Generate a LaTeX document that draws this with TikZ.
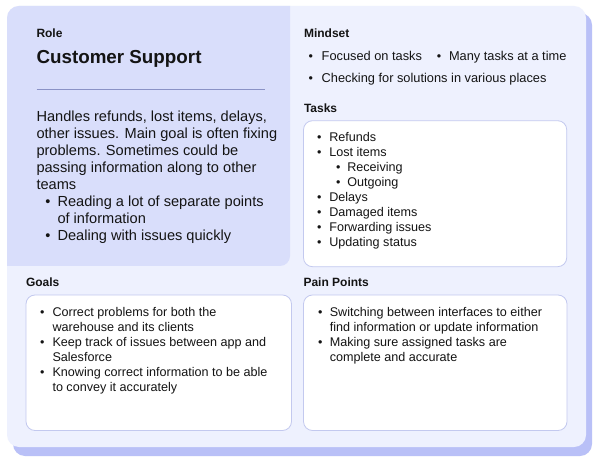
\documentclass[tikz,border=0pt]{standalone}
\usepackage{fontspec}
\setmainfont{Liberation Sans}
\definecolor{cardbg}{HTML}{EEF1FE}
\definecolor{rolebg}{HTML}{D9DEFB}
\definecolor{shadowc}{HTML}{B9C0F7}
\definecolor{boxline}{HTML}{C3C9EF}
\definecolor{rulec}{HTML}{8A92C6}
\definecolor{ink}{HTML}{141414}
\begin{document}
\begin{tikzpicture}[x=1bp,y=-1bp,
  txt/.style={anchor=base west, inner sep=0, outer sep=0, text=ink},
  head/.style={txt, font=\bfseries\fontsize{12bp}{14bp}\selectfont},
  para/.style={txt, font=\fontsize{14.6bp}{17bp}\selectfont},
  mind/.style={txt, font=\fontsize{12.8bp}{15bp}\selectfont},
  item/.style={txt, font=\fontsize{12.6bp}{15bp}\selectfont},
  bul/.style={anchor=base, inner sep=0, outer sep=0, text=ink, font=\fontsize{12.5bp}{14bp}\selectfont},
  bigbul/.style={bul, font=\fontsize{14.5bp}{17bp}\selectfont},
  whitebox/.style={draw=boxline, line width=0.8bp, fill=white, rounded corners=9bp}]
\useasboundingbox (0,0) rectangle (600,464);
\fill[white] (0,0) rectangle (600,464);
% card with shadow
\fill[shadowc, rounded corners=12bp] (13,13) rectangle (592,456);
\fill[cardbg, rounded corners=12bp] (7,6) rectangle (586,447);
\begin{scope}
  \clip[rounded corners=12bp] (7,6) rectangle (586,447);
  \fill[rolebg, rounded corners=10bp] (-20,-20) rectangle (290,266);
\end{scope}
% Role panel
\node[head] (rolelbl) at (36.5,37.5) {Role};
\node[txt, font=\bfseries\fontsize{18.8bp}{22bp}\selectfont] (rolename) at (36.5,63.3) {Customer Support};
\coordinate (ruleA) at (36.5,89.3);
\coordinate (ruleB) at (265,89.3);
\draw[rulec, line width=1bp] (ruleA) -- (ruleB);
\node[para] (p1) at (36.5,122) {Handles refunds, lost items, delays,};
\node[para] (p2) at (36.5,139) {other issues. Main goal is often fixing};
\node[para] (p3) at (36.5,156) {problems. Sometimes could be};
\node[para] (p4) at (36.5,173) {passing information along to other};
\node[para] (p5) at (36.5,190) {teams};
\node[bigbul] (rb1) at (48,207) {•};
\node[para] (r1) at (57.5,207) {Reading a lot of separate points};
\node[para] (r1b) at (57.5,224) {of information};
\node[bigbul] (rb2) at (48,241) {•};
\node[para] (r2) at (57.5,241) {Dealing with issues quickly};
% Mindset
\node[head] (mindlbl) at (304,37.3) {Mindset};
\node[bul] (mb1) at (310.7,61) {•};
\node[mind] (m1) at (321.7,61) {Focused on tasks};
\node[bul] (mb2) at (439,61) {•};
\node[mind] (m2) at (449,61) {Many tasks at a time};
\node[bul] (mb3) at (310.7,82.3) {•};
\node[mind] (m3) at (321.7,82.3) {Checking for solutions in various places};
% Tasks
\node[head] (tasklbl) at (304,112.7) {Tasks};
\draw[whitebox] (303.5,120.7) rectangle (566.7,266.7);
\node[bul] (tb1) at (319.3,142) {•};
\node[item] (t1) at (329.3,142) {Refunds};
\node[bul] (tb2) at (319.3,157) {•};
\node[item] (t2) at (329.3,157) {Lost items};
\node[bul] (tb3) at (338.3,172) {•};
\node[item] (t3) at (347.3,172) {Receiving};
\node[bul] (tb4) at (338.3,187) {•};
\node[item] (t4) at (347.3,187) {Outgoing};
\node[bul] (tb5) at (319.3,202) {•};
\node[item] (t5) at (329.3,202) {Delays};
\node[bul] (tb6) at (319.3,217) {•};
\node[item] (t6) at (329.3,217) {Damaged items};
\node[bul] (tb7) at (319.3,232) {•};
\node[item] (t7) at (329.3,232) {Forwarding issues};
\node[bul] (tb8) at (319.3,247) {•};
\node[item] (t8) at (329.3,247) {Updating status};
% Goals
\node[head] (goallbl) at (26,286.7) {Goals};
\draw[whitebox] (26,295) rectangle (291.5,430.5);
\node[bul] (gb1) at (42.3,316) {•};
\node[item] (g1) at (52.5,316) {Correct problems for both the};
\node[item] (g1b) at (52.5,331) {warehouse and its clients};
\node[bul] (gb2) at (42.3,346) {•};
\node[item] (g2) at (52.5,346) {Keep track of issues between app and};
\node[item] (g2b) at (52.5,361) {Salesforce};
\node[bul] (gb3) at (42.3,376) {•};
\node[item] (g3) at (52.5,376) {Knowing correct information to be able};
\node[item] (g3b) at (52.5,391) {to convey it accurately};
% Pain points
\node[head] (painlbl) at (303.5,286.7) {Pain Points};
\draw[whitebox] (303.5,295) rectangle (567,430.5);
\node[bul] (pb1) at (320.3,316) {•};
\node[item] (q1) at (329.8,316) {Switching between interfaces to either};
\node[item] (q1b) at (329.8,331) {find information or update information};
\node[bul] (pb2) at (320.3,346) {•};
\node[item] (q2) at (329.8,346) {Making sure assigned tasks are};
\node[item] (q2b) at (329.8,361) {complete and accurate};
\end{tikzpicture}
\end{document}
